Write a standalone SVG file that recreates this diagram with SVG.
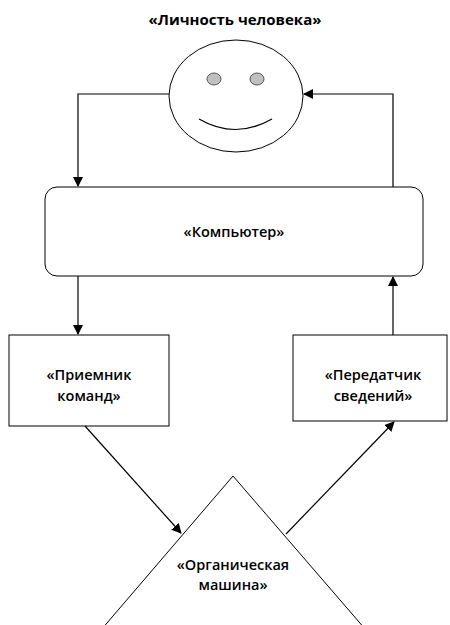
<svg xmlns="http://www.w3.org/2000/svg" width="450" height="625" viewBox="0 0 450 625">
<defs>
<style>
.s{fill:#fff;stroke:#000;stroke-width:1}
.t{font-family:"Open Sans","Liberation Sans",sans-serif;font-weight:600;font-size:14.5px;text-anchor:middle;fill:#000}
.h{font-weight:bold;font-size:15px}
.c{fill:none;stroke:#000;stroke-width:1.2}
</style>
<marker id="a" markerWidth="10" markerHeight="10" refX="9" refY="5" orient="auto" markerUnits="userSpaceOnUse">
<path d="M0,0 L10,5 L0,10 Z" fill="#000"/>
</marker>
</defs>
<rect width="450" height="625" fill="#fff"/>
<g id="title"><text class="t h" x="235" y="25">«Личность человека»</text></g>
<g id="face">
<ellipse class="s" cx="236" cy="96" rx="67" ry="56"/>
<ellipse cx="214" cy="79" rx="7" ry="6" fill="#c0c0c0" stroke="#555"/>
<ellipse cx="257" cy="79" rx="7" ry="6" fill="#c0c0c0" stroke="#555"/>
<path d="M199,119 Q235,140 272,119" fill="none" stroke="#000" stroke-width="1.2"/>
</g>
<g id="computer">
<rect class="s" x="45" y="187" width="378" height="89" rx="12"/>
<text class="t" x="234" y="237">«Компьютер»</text>
</g>
<g id="receiver">
<rect class="s" x="9" y="335" width="160" height="91"/>
<text class="t" x="89" y="380">«Приемник</text>
<text class="t" x="89" y="401">команд»</text>
</g>
<g id="transmitter">
<rect class="s" x="293" y="335" width="154" height="86"/>
<text class="t" x="373" y="380">«Передатчик</text>
<text class="t" x="373" y="401">сведений»</text>
</g>
<g id="machine">
<path class="s" d="M233,476 L95,637 L372,637 Z"/>
<text class="t" x="233" y="570">«Органическая</text>
<text class="t" x="233" y="590">машина»</text>
</g>
<g id="connectors">
<path class="c" d="M169,94 H78 V186" marker-end="url(#a)"/>
<path class="c" d="M393,187 V94 H304" marker-end="url(#a)"/>
<path class="c" d="M78,276 V334" marker-end="url(#a)"/>
<path class="c" d="M393,335 V277" marker-end="url(#a)"/>
<path class="c" d="M85,426 L181,533" marker-end="url(#a)"/>
<path class="c" d="M286,534 L394,422" marker-end="url(#a)"/>
</g>
</svg>
